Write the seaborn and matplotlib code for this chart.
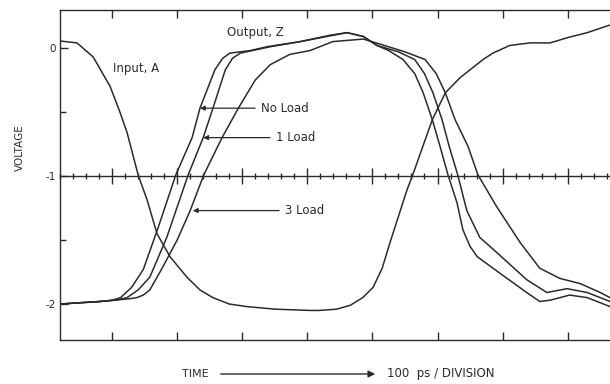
import numpy as np
import pandas as pd
import matplotlib
matplotlib.use("Agg")
import matplotlib.pyplot as plt
from matplotlib.ticker import MultipleLocator, FixedLocator
import seaborn as sns

# ---- data (time in ps, voltage in V) ----
input_t = [20, 46, 71, 97, 112, 123, 140, 154, 169, 189, 215, 235, 255, 280, 307, 350, 404, 419,
           445, 466, 485, 501, 515, 527, 553, 562, 592, 612, 635, 670, 685, 711, 742, 773, 799, 830, 865]
input_v = [0.055, 0.04, -0.07, -0.30, -0.50, -0.66, -0.99, -1.19, -1.45, -1.63, -1.79,
           -1.89, -1.95, -2.0, -2.02, -2.04, -2.05, -2.05, -2.04, -2.01, -1.95, -1.87, -1.72,
           -1.52, -1.11, -0.99, -0.56, -0.35, -0.23, -0.09, -0.04, 0.02, 0.04, 0.04, 0.08, 0.12, 0.18]

noload_t = [20, 82, 100, 113, 130, 148, 171, 198, 223, 235, 258, 270, 281, 312, 338, 389, 435, 461,
            486, 507, 525, 547, 565, 578, 592, 604, 616, 630, 639, 650, 661, 696, 737, 757, 773, 803, 830, 865]
noload_v = [-2.0, -1.98, -1.97, -1.95, -1.87, -1.73, -1.40, -0.99, -0.70, -0.47, -0.17, -0.08, -0.04,
            -0.02, 0.01, 0.05, 0.10, 0.12, 0.09, 0.02, -0.02, -0.09, -0.20, -0.35, -0.56, -0.77, -0.99,
            -1.21, -1.42, -1.55, -1.63, -1.76, -1.91, -1.98, -1.97, -1.93, -1.95, -2.02]

load1_t = [20, 82, 105, 123, 140, 158, 184, 217, 240, 255, 274, 285, 297, 343, 389, 461, 486, 507,
           540, 565, 580, 593, 607, 618, 631, 645, 665, 696, 737, 768, 799, 830, 865]
load1_v = [-2.0, -1.98, -1.97, -1.95, -1.89, -1.79, -1.48, -0.99, -0.70, -0.47, -0.17, -0.08, -0.04,
           0.01, 0.05, 0.12, 0.09, 0.02, -0.03, -0.09, -0.20, -0.35, -0.56, -0.77, -0.99, -1.27,
           -1.48, -1.62, -1.81, -1.91, -1.88, -1.91, -1.98]

load3_t = [20, 82, 125, 138, 148, 158, 178, 200, 220, 241, 269, 294, 320, 343, 373, 404, 439,
           486, 512, 550, 581, 598, 612, 627, 647, 662, 691, 727, 757, 788, 819, 850, 865]
load3_v = [-2.0, -1.98, -1.96, -1.95, -1.93, -1.89, -1.71, -1.50, -1.27, -0.99, -0.70, -0.47, -0.25,
           -0.13, -0.05, -0.02, 0.05, 0.07, 0.03, -0.03, -0.09, -0.20, -0.35, -0.56, -0.77, -0.99,
           -1.24, -1.52, -1.72, -1.80, -1.84, -1.91, -1.95]

ytick_vals = [0, -1, -2]
ytick_labels = ["0", "-1", "-2"]

# ---- styling ----
sns.set_style("white")
plt.rcParams["font.family"] = ["DejaVu Sans"]
plt.rcParams["axes.unicode_minus"] = False
ink = "#2b2b2b"
lw = 1.1
fs = 8.5

fig = plt.figure(figsize=(6.10, 3.84), dpi=100)
ax = fig.add_axes([60 / 610, 1 - 340 / 384, 550 / 610, 330 / 384])

series = [(input_t, input_v), (noload_t, noload_v), (load1_t, load1_v), (load3_t, load3_v)]
for t, v in series:
    df = pd.DataFrame({"t": t, "v": v})
    sns.lineplot(data=df, x="t", y="v", ax=ax, color=ink, linewidth=lw,
                 estimator=None, sort=False)

ax.set_xlim(20, 865)
ax.set_ylim(-2.281, 0.297)
ax.set_xlabel("")
ax.set_ylabel("")

for s in ["left", "bottom", "top"]:
    ax.spines[s].set_color(ink)
    ax.spines[s].set_linewidth(1.0)
ax.spines["right"].set_visible(False)

ax.xaxis.set_major_locator(MultipleLocator(100))
ax.xaxis.set_minor_locator(MultipleLocator(20))
ax.yaxis.set_major_locator(FixedLocator(ytick_vals))
ax.yaxis.set_minor_locator(FixedLocator([-0.5, -1.5]))
ax.set_yticklabels(ytick_labels)

# center reference line with ticks at V = -1 (twin sharing the time axis)
ax2 = ax.twinx()
ax2.set_ylim(ax.get_ylim())
ax2.yaxis.set_visible(False)
ax2.xaxis.set_visible(True)
for s in ["left", "right", "top"]:
    ax2.spines[s].set_visible(False)
ax2.spines["bottom"].set_position(("data", -1))
ax2.spines["bottom"].set_color(ink)
ax2.spines["bottom"].set_linewidth(1.0)
ax2.xaxis.set_ticks_position("bottom")
ax2.tick_params(axis="x", which="major", direction="inout", length=11, width=1.0,
                color=ink, labelbottom=False, labeltop=False, bottom=True, top=False)
ax2.tick_params(axis="x", which="minor", direction="inout", length=5, width=1.0,
                color=ink, labelbottom=False, labeltop=False, bottom=True, top=False)

ax.tick_params(axis="x", which="major", direction="in", length=6, width=1.0, color=ink,
               top=True, bottom=True, labelbottom=False, labeltop=False)
ax.tick_params(axis="x", which="minor", length=0, top=False, bottom=False)
ax.tick_params(axis="y", which="major", direction="in", length=6, width=1.0, color=ink,
               labelsize=7.5, labelcolor=ink, pad=3, left=True, right=False)
ax.tick_params(axis="y", which="minor", direction="in", length=4, width=1.0, color=ink,
               left=True, right=False)

# annotations
ax.text(101, -0.16, "Input, A", fontsize=fs, color=ink, va="center", ha="left")
ax.text(277, 0.125, "Output, Z", fontsize=fs, color=ink, va="center", ha="left")
arrow = dict(arrowstyle="-|>", color=ink, lw=0.9, mutation_scale=7, shrinkA=2, shrinkB=0)
ax.annotate("No Load", xy=(235, -0.47), xytext=(329, -0.47), fontsize=fs, color=ink,
            va="center", ha="left", arrowprops=arrow)
ax.annotate("1 Load", xy=(240, -0.70), xytext=(352, -0.70), fontsize=fs, color=ink,
            va="center", ha="left", arrowprops=arrow)
ax.annotate("3 Load", xy=(224, -1.27), xytext=(366, -1.27), fontsize=fs, color=ink,
            va="center", ha="left", arrowprops=arrow)

fig.text(20 / 610, 1 - 148 / 384, "VOLTAGE", rotation=90, fontsize=7.5, color=ink,
         ha="center", va="center")
fig.text(195 / 610, 1 - 374 / 384, "TIME", fontsize=8, color=ink,
         ha="center", va="center")
fig.text(387 / 610, 1 - 374 / 384, "100  ps / DIVISION", fontsize=fs, color=ink,
         ha="left", va="center")
fig.add_artist(matplotlib.patches.FancyArrowPatch(
    (218 / 610, 1 - 374 / 384), (378 / 610, 1 - 374 / 384), transform=fig.transFigure,
    arrowstyle="-|>", mutation_scale=10, color=ink, lw=1.0))

fig.savefig("out.png", dpi=100, facecolor="white")
